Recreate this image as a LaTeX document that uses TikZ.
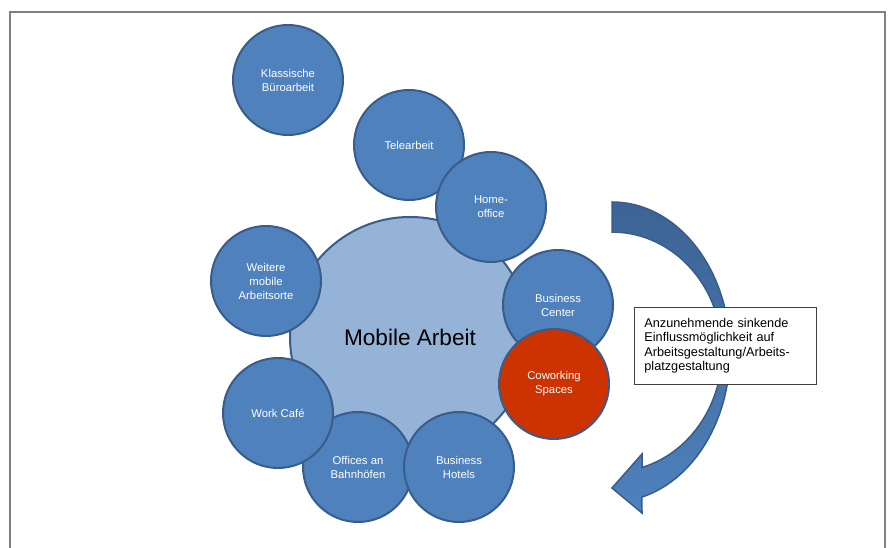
\documentclass[tikz,border=0pt]{standalone}
\usepackage{fontspec}
\setmainfont{Liberation Sans}
\definecolor{cblue}{HTML}{4F81BD}
\definecolor{cline}{HTML}{385D8A}
\definecolor{clight}{HTML}{95B3D7}
\definecolor{cred}{HTML}{CC3300}
\definecolor{adark}{HTML}{3C6393}
\tikzset{
  sat/.style={circle, draw=cline, line width=2pt, fill=cblue, minimum size=110pt, inner sep=0pt,
    text=white, align=center, font=\fontsize{11.3}{14}\selectfont},
  hub/.style={circle, draw=cline, line width=2pt, fill=clight, minimum size=240pt, inner sep=0pt,
    font=\fontsize{22.6}{26}\selectfont},
  redsat/.style={sat, fill=cred},
  infobox/.style={draw=black!75, line width=0.8pt, fill=white, text width=162pt, inner xsep=10pt,
    minimum height=77pt, align=left, font=\fontsize{12.7}{14.4}\selectfont, anchor=north west},
  bentarrow/.style={draw=cline, line width=1.5pt, top color=adark, bottom color=cblue, line join=miter},
  frame/.style={draw=black!50, line width=1.5pt}
}
\begin{document}
\begin{tikzpicture}[x=1pt,y=1pt]
\useasboundingbox (0,0) rectangle (888,548);
\begin{scope}
\clip (0,0) rectangle (888,548);
\draw[frame] (10,536) rectangle (885,-10);
\end{scope}
% curved arrow
\coordinate (aS) at (612,346);
\coordinate (aB1) at (642,35);
\coordinate (aT) at (612,60);
\coordinate (aB2) at (642,94);
\coordinate (aI) at (642,80.5);
\path[bentarrow] (aS) arc[start angle=90,end angle=-75.3,x radius=118,y radius=150]
  -- (aB1) -- (aT) -- (aB2) -- (aI)
  arc[start angle=-74.17,end angle=90,x radius=110,y radius=120] -- cycle;
% hub
\node[hub] (big) at (410,211) {Mobile Arbeit};
% satellites
\node[sat] (tele) at (409,403) {Telearbeit};
\node[sat] (home) at (491,341) {Home-\\office};
\node[sat] (bc) at (558,243) {Business\\Center};
\node[redsat] (cow) at (554,164) {Coworking\\Spaces};
\node[sat] (bahn) at (358,81) {Offices an\\Bahnhöfen};
\node[sat] (hotel) at (459,81) {Business\\Hotels};
\node[sat] (cafe) at (278,135) {Work Café};
\node[sat] (weit) at (266,267) {Weitere\\mobile\\Arbeitsorte};
\node[sat] (kb) at (288,468) {Klassische\\Büroarbeit};
% info box
\node[infobox] (info) at (634,241) {Anzunehmende sinkende\\Einflussmöglichkeit auf\\Arbeitsgestaltung/Arbeits-\\platzgestaltung};
\end{tikzpicture}
\end{document}
